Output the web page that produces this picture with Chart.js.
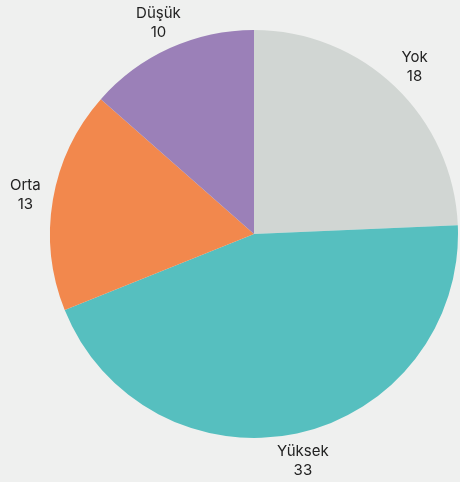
<!DOCTYPE html>
<html>
<head>
<meta charset="utf-8">
<script src="https://cdn.jsdelivr.net/npm/chart.js@4"></script>
<style>
  html, body { margin: 0; padding: 0; background: #eff0ef; }
  #wrap { width: 460px; height: 482px; }
</style>
</head>
<body>
<div id="wrap"><canvas id="pieChart" width="460" height="482"></canvas></div>
<script>
const categories = ["Yok", "Yüksek", "Orta", "Düşük"];
const values = [18, 33, 13, 10];
const sliceColors = ["#d1d6d3", "#56bfbf", "#f2884d", "#9b80b8"];

// draws "name\nvalue" just outside each slice
const outsideLabels = {
  id: "outsideLabels",
  afterDatasetsDraw(chart) {
    const ctx = chart.ctx;
    const meta = chart.getDatasetMeta(0);
    ctx.save();
    ctx.font = "15px Inter, sans-serif";
    ctx.fillStyle = "#222";
    ctx.textAlign = "center";
    ctx.textBaseline = "middle";
    meta.data.forEach((arc, i) => {
      const mid = (arc.startAngle + arc.endAngle) / 2;
      const r = arc.outerRadius + 28;
      const x = arc.x + Math.cos(mid) * r;
      const y = arc.y + Math.sin(mid) * r;
      ctx.fillText(categories[i], x, y - 9);
      ctx.fillText(String(values[i]), x, y + 10);
    });
    ctx.restore();
  },
};

new Chart(document.getElementById("pieChart"), {
  type: "pie",
  data: {
    labels: categories,
    datasets: [
      {
        data: values,
        backgroundColor: sliceColors,
        borderWidth: 0,
      },
    ],
  },
  options: {
    responsive: false,
    animation: false,
    layout: { padding: { left: 50, right: 2, top: 30, bottom: 44 } },
    plugins: {
      legend: { display: false },
      tooltip: { enabled: false },
    },
  },
  plugins: [outsideLabels],
});
</script>
</body>
</html>
